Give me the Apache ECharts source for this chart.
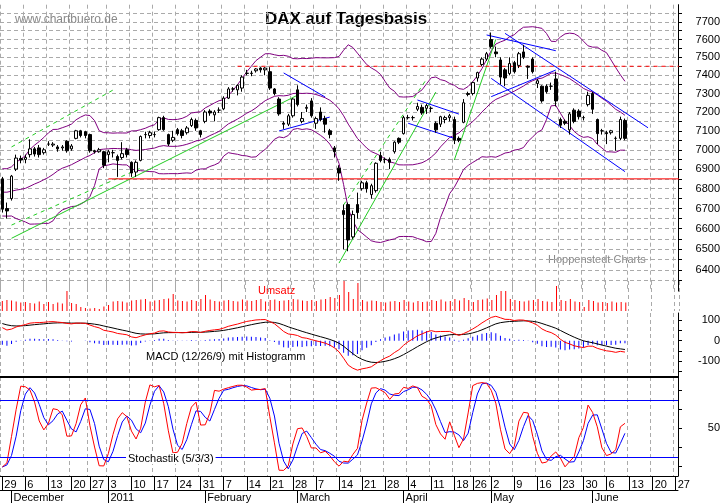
<!DOCTYPE html>
<html>
<head>
<meta charset="utf-8">
<script src="https://cdn.jsdelivr.net/npm/echarts@6.0.0/dist/echarts.min.js"></script>
<style>
  html, body { margin: 0; padding: 0; background: #fff; }
  #chart { width: 723px; height: 503px; }
</style>
</head>
<body>
<div id="chart"></div>
<script>
// trading days (Xetra), last ones are empty space on the right
var dates = [
  '2010-11-29','2010-11-30',
  '2010-12-01','2010-12-02','2010-12-03','2010-12-06','2010-12-07','2010-12-08','2010-12-09','2010-12-10',
  '2010-12-13','2010-12-14','2010-12-15','2010-12-16','2010-12-17','2010-12-20','2010-12-21','2010-12-22',
  '2010-12-23','2010-12-27','2010-12-28','2010-12-29','2010-12-30',
  '2011-01-03','2011-01-04','2011-01-05','2011-01-06','2011-01-07','2011-01-10','2011-01-11','2011-01-12',
  '2011-01-13','2011-01-14','2011-01-17','2011-01-18','2011-01-19','2011-01-20','2011-01-21','2011-01-24',
  '2011-01-25','2011-01-26','2011-01-27','2011-01-28','2011-01-31',
  '2011-02-01','2011-02-02','2011-02-03','2011-02-04','2011-02-07','2011-02-08','2011-02-09','2011-02-10',
  '2011-02-11','2011-02-14','2011-02-15','2011-02-16','2011-02-17','2011-02-18','2011-02-21','2011-02-22',
  '2011-02-23','2011-02-24','2011-02-25','2011-02-28',
  '2011-03-01','2011-03-02','2011-03-03','2011-03-04','2011-03-07','2011-03-08','2011-03-09','2011-03-10',
  '2011-03-11','2011-03-14','2011-03-15','2011-03-16','2011-03-17','2011-03-18','2011-03-21','2011-03-22',
  '2011-03-23','2011-03-24','2011-03-25','2011-03-28','2011-03-29','2011-03-30','2011-03-31',
  '2011-04-01','2011-04-04','2011-04-05','2011-04-06','2011-04-07','2011-04-08','2011-04-11','2011-04-12',
  '2011-04-13','2011-04-14','2011-04-15','2011-04-18','2011-04-19','2011-04-20','2011-04-21','2011-04-26',
  '2011-04-27','2011-04-28','2011-04-29',
  '2011-05-02','2011-05-03','2011-05-04','2011-05-05','2011-05-06','2011-05-09','2011-05-10','2011-05-11',
  '2011-05-12','2011-05-13','2011-05-16','2011-05-17','2011-05-18','2011-05-19','2011-05-20','2011-05-23',
  '2011-05-24','2011-05-25','2011-05-26','2011-05-27','2011-05-30','2011-05-31',
  '2011-06-01','2011-06-02','2011-06-03','2011-06-06','2011-06-07','2011-06-08','2011-06-09','2011-06-10',
  '2011-06-13','2011-06-14','2011-06-15','2011-06-16','2011-06-17','2011-06-20','2011-06-21','2011-06-22',
  '2011-06-23','2011-06-24','2011-06-27'
];
var monthNames = ['January','February','March','April','May','June','July','August','September','October','November','December'];

// closes before the visible window (for the indicators)
var warmupCloses = [6180,6160,6230,6270,6250,6290,6300,6330,6430,6490,6450,6500,6440,6500,6560,6580,6600,6580,6600,6610,6580,
  6620,6690,6760,6850,6870,6860,6790,6750,6780,6760,6790,6720,6650,6740,6820,6830,6850,6830,6820,6790];

// open, close, low, high
var ohlc = [
  [6850,6697,6680,6860],[6700,6688,6650,6730],[6750,6864,6740,6870],[6900,6957,6890,6975],[6955,6947,6930,6970],
  [6950,6960,6930,6975],[6975,7005,6960,7055],[7005,6978,6965,7015],[7010,6975,6960,7025],[6985,7000,6975,7010],
  [7030,7030,7020,7045],[7025,7030,7015,7040],[7015,7005,6990,7025],[7010,7015,6995,7025],[7045,6995,6985,7050],
  [7005,7020,6995,7030],[7060,7100,7055,7105],[7100,7075,7065,7105],[7095,7075,7060,7100],[7080,6995,6985,7085],
  [6995,6990,6980,7000],[6990,7000,6985,7010],[6990,6920,6905,6995],[6975,6990,6935,7000],[6985,6985,6960,7000],
  [6965,6945,6860,6975],[6960,6980,6950,7040],[7000,6975,6960,7010],[6935,6880,6860,6940],[6885,6935,6860,6945],
  [6945,7070,6940,7075],[7080,7080,7060,7095],[7075,7090,7060,7100],[7080,7080,7065,7095],[7106,7170,7100,7175],
  [7170,7106,7100,7180],[7080,7030,7020,7085],[7050,7065,7040,7100],[7106,7085,7075,7115],[7100,7075,7060,7110],
  [7090,7115,7080,7125],[7128,7160,7120,7170],[7155,7115,7100,7165],[7100,7080,7065,7105],[7150,7200,7140,7210],
  [7205,7195,7180,7215],[7185,7200,7150,7210],[7210,7210,7195,7225],[7217,7275,7210,7285],[7275,7325,7270,7335],
  [7325,7325,7310,7335],[7320,7345,7290,7350],[7330,7390,7310,7400],[7410,7412,7400,7430],[7410,7412,7395,7425],
  [7425,7435,7415,7440],[7440,7430,7415,7445],[7430,7440,7400,7445],[7420,7330,7320,7445],[7325,7300,7290,7330],
  [7270,7190,7180,7280],[7140,7135,7110,7150],[7135,7180,7125,7190],[7180,7270,7170,7275],[7320,7240,7230,7345],
  [7150,7165,7140,7200],[7220,7225,7200,7240],[7260,7180,7170,7275],[7140,7165,7110,7175],[7200,7160,7150,7225],
  [7165,7135,7090,7180],[7100,7080,7060,7110],[7010,6990,6960,7020],[6905,6880,6840,6920],[6690,6670,6500,6720],
  [6720,6545,6490,6730],[6560,6670,6550,6690],[6720,6680,6650,6780],[6800,6830,6790,6840],[6830,6800,6780,6840],
  [6770,6815,6750,6825],[6790,6930,6780,6935],[6970,6945,6935,6990],[6950,6950,6930,6960],[6950,6935,6900,6960],
  [6990,7040,6980,7045],[7060,7040,7030,7065],[7085,7170,7080,7180],[7170,7170,7160,7185],[7170,7170,7155,7180],
  [7215,7230,7205,7250],[7225,7195,7185,7240],[7220,7235,7190,7245],[7220,7220,7200,7230],[7140,7105,7090,7150],
  [7135,7175,7120,7180],[7160,7170,7140,7180],[7170,7180,7150,7190],[7160,7050,7030,7175],[7060,7050,7040,7070],
  [7145,7250,7140,7270],[7300,7295,7285,7310],[7300,7360,7290,7365],[7385,7415,7365,7420],[7460,7490,7450,7500],
  [7490,7520,7480,7530],[7600,7560,7550,7640],[7530,7520,7500,7560],[7485,7390,7350,7500],[7430,7385,7340,7440],
  [7410,7465,7400,7500],[7470,7420,7410,7480],[7455,7520,7440,7530],[7530,7500,7490,7570],[7450,7445,7380,7455],
  [7490,7420,7410,7500],[7355,7370,7330,7380],[7340,7260,7250,7345],[7340,7310,7300,7350],[7340,7340,7320,7360],
  [7380,7260,7230,7420],[7160,7130,7115,7170],[7150,7140,7130,7160],[7105,7190,7080,7200],[7210,7150,7140,7220],
  [7205,7175,7160,7215],[7170,7170,7155,7180],[7240,7290,7230,7310],[7300,7215,7190,7310],[7160,7085,7030,7165],
  [7100,7100,7080,7110],[7090,7085,7030,7100],[7090,7100,7080,7105],[7060,7060,6995,7070],[7060,7160,7050,7175],
  [7155,7060,7050,7165]
];

// Umsatz
var volume = [100,110,105,95,85,90,80,75,95,70, 90,70,85,75,200,80,70,40,30,25,
  30,20,45,60,95,100,95,85,105,110, 115,120,95,105,110,120,125,170,105,100,
  95,110,100,120,160,115,100,95,105,110, 100,95,115,105,100,110,120,95,110,115,
  100,105,110,120,115,105,100,110,100,115, 120,140,130,160,300,190,120,280,110,95,
  105,100,90,85,95,100,90,110,95,85, 100,90,95,110,100,115,95,100,120,105,
  130,110,90,110,115,125,110,160,200,200, 120,110,100,95,105,110,120,100,95,90,
  250,110,100,120,95,90,40,110,100,85, 90,80,95,85,90,85
];

var priceTicks = [6400,6500,6600,6700,6800,6900,7000,7100,7200,7300,7400,7500,7600,7700];
var priceMinor = [6350,6400,6450,6500,6550,6600,6650,6700,6750,6800,6850,6900,6950,7000,7050,7100,7150,7200,
  7250,7300,7350,7400,7450,7500,7550,7600,7650,7700,7750];
var macdTicks = [-100,0,100];
var stochTicks = [50];

// drawn trend lines: [x1, y1, x2, y2] in (trading-day index, price)
var greenDashed = [[2.1,7015,24.2,7319],[2.1,6618,29.8,6905],[74.4,6718,91.9,7380]];
var greenSolid = [[2.1,6553,63.8,7291],[72.9,6433,94.0,7308],[98.2,6947,107.1,7601]];
var blueLines = [[61.0,7413,70.2,7281],[60.2,7099,70.6,7173],[90.0,7265,98.9,7189],[88.3,7140,98.2,7060],
  [105.3,7626,120.2,7537],[109.2,7635,140.0,7116],[106.0,7383,135.1,6887],[106.4,7283,120.2,7429]];
var redSolid = [[23.4,6850,146.5,6850]];
var redDashed = [[51.3,7450,146.5,7450]];

// ---- indicators
var closes = ohlc.map(function (d) { return d[1]; });
var allCloses = warmupCloses.concat(closes);
var off = warmupCloses.length;

function sma(arr, n, i) {
  var s = 0, c = 0;
  for (var k = Math.max(0, i - n + 1); k <= i; k++) { s += arr[k]; c++; }
  return s / c;
}
var bbUp = [], bbMid = [], bbLow = [];
for (var i = 0; i < closes.length; i++) {
  var j = i + off, m = sma(allCloses, 20, j), v = 0;
  for (var k = j - 19; k <= j; k++) v += Math.pow(allCloses[k] - m, 2);
  var sd = Math.sqrt(v / 20);
  bbMid.push(m); bbUp.push(m + 2 * sd); bbLow.push(m - 2 * sd);
}
function ema(arr, n) {
  var a = 2 / (n + 1), out = [arr[0]];
  for (var i = 1; i < arr.length; i++) out.push(arr[i] * a + out[i - 1] * (1 - a));
  return out;
}
var e12 = ema(allCloses, 12), e26 = ema(allCloses, 26);
var macdAll = e12.map(function (v, i) { return v - e26[i]; });
var sigAll = ema(macdAll, 9);
var macd = macdAll.slice(off), signal = sigAll.slice(off);
var hist = macd.map(function (v, i) { return v - signal[i]; });

var rawK = ohlc.map(function (d, i) {
  var hi = -1e9, lo = 1e9;
  for (var k = Math.max(0, i - 4); k <= i; k++) { hi = Math.max(hi, ohlc[k][3]); lo = Math.min(lo, ohlc[k][2]); }
  return hi === lo ? 50 : (d[1] - lo) / (hi - lo) * 100;
});
var slowK = rawK.map(function (v, i) { return sma(rawK, 3, i); });
var stochD = slowK.map(function (v, i) { return sma(slowK, 3, i); });

// ---- axis helpers
var dt = dates.map(function (s) { return new Date(s + 'T12:00:00Z'); });
function weekStart(i) { return i === 0 || (dt[i] - dt[i - 1]) / 864e5 > 2; }
function monthStart(i) { return i > 0 && dt[i].getUTCMonth() !== dt[i - 1].getUTCMonth(); }

var W = 4.7, L = -12, GW = dates.length * W;
function xAxisFor(g, show) {
  return {
    type: 'category', gridIndex: g, data: dates, boundaryGap: true,
    axisLine: { show: show, lineStyle: { color: '#000', width: 1 } },
    axisTick: { show: show, alignWithLabel: true, length: 14, interval: function (i) { return weekStart(i); }, lineStyle: { color: '#000' } },
    axisLabel: {
      show: show, interval: function (i) { return weekStart(i); }, align: 'left', margin: 3,
      fontSize: 11, color: '#000', fontFamily: 'Liberation Sans', padding: [0, 0, 0, 2],
      formatter: function (v) { return String(Number(v.slice(8))); }
    },
    splitLine: { show: true, interval: function (i) { return weekStart(i); }, lineStyle: { color: '#aaa', type: [4, 3] } }
  };
}
var xAxes = [xAxisFor(0, false), xAxisFor(1, false), xAxisFor(2, false), xAxisFor(3, true)];
xAxes.push({
  type: 'category', gridIndex: 3, data: dates, boundaryGap: true, position: 'bottom', offset: 14,
  axisLine: { show: true, lineStyle: { color: '#000' } },
  axisTick: { show: true, alignWithLabel: true, length: 14, interval: function (i) { return monthStart(i); }, lineStyle: { color: '#000' } },
  axisLabel: {
    interval: function (i) { return monthStart(i); }, align: 'left', margin: 2,
    fontSize: 11, color: '#000', fontFamily: 'Liberation Sans', padding: [0, 0, 0, 2],
    formatter: function (v) {
      var d = new Date(v + 'T12:00:00Z');
      return d.getUTCMonth() === 0 ? String(d.getUTCFullYear()) : monthNames[d.getUTCMonth()];
    }
  },
  splitLine: { show: false }
});

function segSeries(list, color, dashed) {
  return list.map(function (s) {
    return {
      type: 'line', xAxisIndex: 0, yAxisIndex: 0, data: [[s[0], s[1]], [s[2], s[3]]],
      symbol: 'none', silent: true, z: 3,
      lineStyle: { color: color, width: 1, type: dashed ? [4, 4] : 'solid' }
    };
  });
}
function bandSeries(data) {
  return { type: 'line', xAxisIndex: 0, yAxisIndex: 0, data: data, symbol: 'none', silent: true, z: 2,
    lineStyle: { color: '#800080', width: 1 } };
}
function axisLbl(values) {
  return { customValues: values, fontSize: 11, color: '#000', fontFamily: 'Liberation Sans', margin: 42, align: 'right',
    formatter: function (v) { return String(v); } };
}

var series = [
  bandSeries(bbUp), bandSeries(bbMid), bandSeries(bbLow),
  {
    type: 'candlestick', xAxisIndex: 0, yAxisIndex: 0, data: ohlc, barWidth: 3, z: 4,
    itemStyle: { color: '#fff', color0: '#000', borderColor: '#000', borderColor0: '#000', borderWidth: 1 }
  },
  {
    type: 'bar', xAxisIndex: 1, yAxisIndex: 1, data: volume, barWidth: 1,
    itemStyle: { color: '#ff0000' }
  },
  {
    type: 'bar', xAxisIndex: 2, yAxisIndex: 2, data: hist, barWidth: 1,
    itemStyle: { color: '#0000ff' }
  },
  { type: 'line', xAxisIndex: 2, yAxisIndex: 2, data: signal, symbol: 'none', lineStyle: { color: '#000', width: 1 } },
  { type: 'line', xAxisIndex: 2, yAxisIndex: 2, data: macd, symbol: 'none', lineStyle: { color: '#ff0000', width: 1 } },
  {
    type: 'line', xAxisIndex: 3, yAxisIndex: 3, data: stochD, symbol: 'none', lineStyle: { color: '#0000ff', width: 1 },
    markLine: { silent: true, symbol: 'none', label: { show: false }, lineStyle: { color: '#0000ff', type: 'solid', width: 1 },
      data: [{ yAxis: 20 }, { yAxis: 80 }] }
  },
  { type: 'line', xAxisIndex: 3, yAxisIndex: 3, data: slowK, symbol: 'none', lineStyle: { color: '#ff0000', width: 1 } }
].concat(segSeries(greenDashed, '#22cc22', true), segSeries(greenSolid, '#22cc22', false),
  segSeries(blueLines, '#0000ff', false), segSeries(redSolid, '#ff0000', false), segSeries(redDashed, '#ff0000', true));

var myChart = echarts.init(document.getElementById('chart'), null, { renderer: 'canvas' });
var option = {
  animation: false,
  backgroundColor: '#fff',
  grid: [
    { left: L, width: GW, top: 4.7, height: 286.4 },
    { left: L, width: GW, top: 281, height: 30 },
    { left: L, width: GW, top: 313, height: 64.7 },
    { left: L, width: GW, top: 377, height: 99 }
  ],
  xAxis: xAxes,
  yAxis: [
    {
      type: 'log', logBase: 10, gridIndex: 0, position: 'right', min: 6300, max: 7800,
      axisLine: { show: true, lineStyle: { color: '#000' } },
      axisTick: { show: true, customValues: priceMinor, length: 4, lineStyle: { color: '#000' } },
      axisLabel: axisLbl(priceTicks),
      splitLine: { show: true, lineStyle: { color: '#aaa', type: [4, 3] } }
    },
    { type: 'value', gridIndex: 1, min: 0, max: 300, show: false },
    {
      type: 'value', gridIndex: 2, position: 'right', min: -180, max: 135,
      axisLine: { show: true, lineStyle: { color: '#000' } },
      axisTick: { show: true, customValues: [-150, -100, -50, 0, 50, 100], length: 4, lineStyle: { color: '#000' } },
      axisLabel: axisLbl(macdTicks),
      splitLine: { show: false }
    },
    {
      type: 'value', gridIndex: 3, position: 'right', min: 0, max: 104,
      axisLine: { show: true, lineStyle: { color: '#000' } },
      axisTick: { show: true, customValues: [10, 30, 50, 70, 90], length: 4, lineStyle: { color: '#000' } },
      axisLabel: axisLbl(stochTicks),
      splitLine: { show: false }
    }
  ],
  series: series,
  graphic: [
    { type: 'line', shape: { x1: 0, y1: 377, x2: 679, y2: 377 }, style: { stroke: '#000', lineWidth: 2 }, z: 10 },
    { type: 'text', left: 15, top: 14, style: { text: 'www.chartbuero.de', fill: '#888', font: '12px "Liberation Sans"' } },
    { type: 'text', left: 265, top: 11, style: { text: 'DAX auf Tagesbasis', fill: '#000', font: 'bold 17px "Liberation Sans"' } },
    { type: 'text', left: 548, top: 254, style: { text: 'Hoppenstedt Charts', fill: '#888', font: '11px "Liberation Sans"' } },
    { type: 'text', left: 258, top: 285, style: { text: 'Umsatz', fill: '#ff0000', font: '11px "Liberation Sans"' } },
    { type: 'text', left: 144, top: 351, z: 10, style: { text: 'MACD (12/26/9) mit Histogramm', fill: '#000', font: '11px "Liberation Sans"', backgroundColor: '#fff', padding: [0, 2] } },
    { type: 'text', left: 126, top: 453, z: 10, style: { text: 'Stochastik (5/3/3)', fill: '#000', font: '11px "Liberation Sans"', backgroundColor: '#fff', padding: [0, 2] } }
  ]
};
myChart.setOption(option);
window.onresize = function () { myChart.resize(); };
</script>
</body>
</html>
